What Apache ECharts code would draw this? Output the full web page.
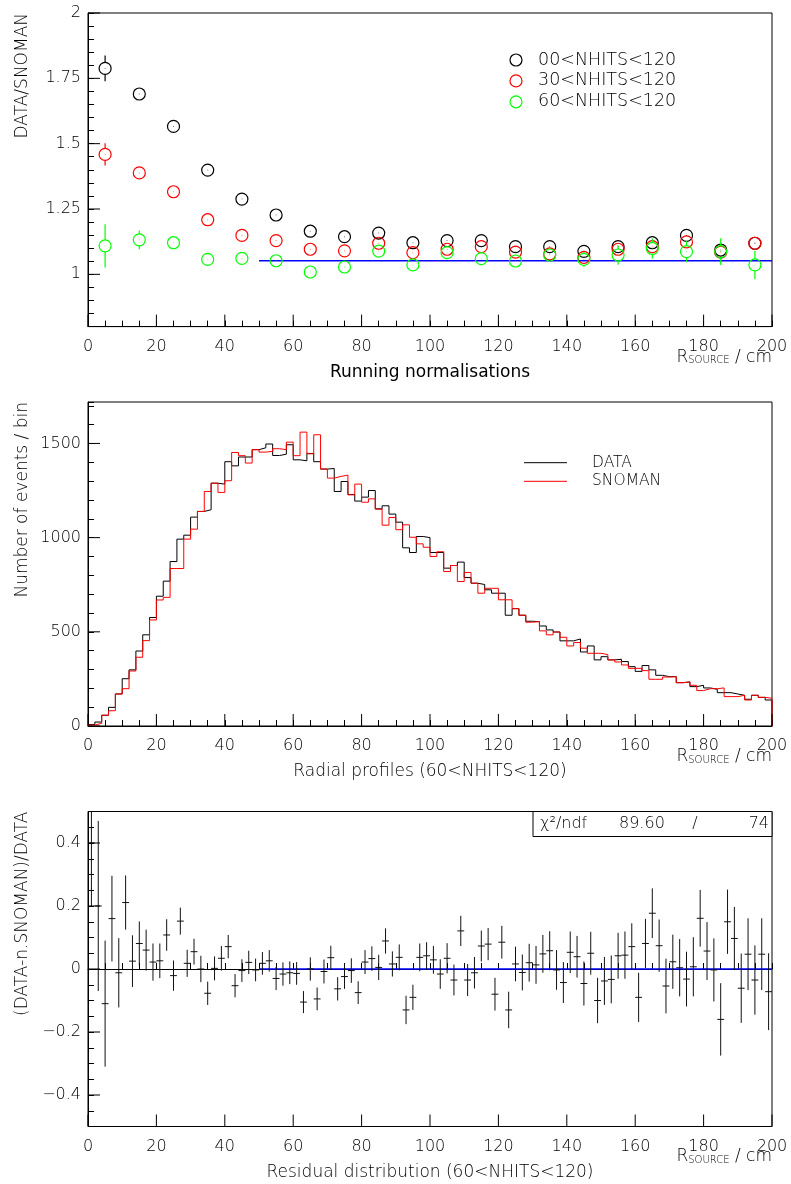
<!DOCTYPE html>
<html>
<head>
<meta charset="utf-8">
<title>Radial normalisation study</title>
<script src="https://cdn.jsdelivr.net/npm/echarts@6/dist/echarts.min.js"></script>
<style>
  html, body { margin: 0; padding: 0; background: #ffffff; }
  #chart { width: 791px; height: 1184px; }
</style>
</head>
<body>
<div id="chart"></div>
<script>
// ---------- data ----------
// running normalisation (DATA/SNOMAN) per 10 cm shell
const radiusCentres = [5, 15, 25, 35, 45, 55, 65, 75, 85, 95, 105, 115, 125, 135, 145, 155, 165, 175, 185, 195];
const ratioNhits00 = [1.788, 1.690, 1.566, 1.399, 1.288, 1.227, 1.165, 1.144, 1.158, 1.121,
                      1.129, 1.129, 1.106, 1.106, 1.088, 1.106, 1.121, 1.149, 1.093, 1.119];
const ratioNhits00Err = [0.049, 0.012, 0.010, 0.008, 0.008, 0.008, 0.008, 0.008, 0.008, 0.008,
                         0.008, 0.008, 0.008, 0.008, 0.008, 0.009, 0.010, 0.010, 0.012, 0.015];
const ratioNhits30 = [1.459, 1.388, 1.316, 1.209, 1.149, 1.129, 1.096, 1.090, 1.119, 1.083,
                      1.096, 1.106, 1.085, 1.078, 1.065, 1.096, 1.106, 1.124, 1.085, 1.119];
const ratioNhits30Err = [0.043, 0.012, 0.010, 0.009, 0.009, 0.009, 0.009, 0.009, 0.009, 0.009,
                         0.010, 0.010, 0.010, 0.011, 0.011, 0.012, 0.013, 0.014, 0.016, 0.018];
const ratioNhits60 = [1.109, 1.132, 1.121, 1.057, 1.061, 1.052, 1.009, 1.028, 1.089, 1.036,
                      1.083, 1.060, 1.051, 1.074, 1.057, 1.074, 1.099, 1.087, 1.087, 1.036];
const ratioNhits60Err = [0.083, 0.036, 0.020, 0.015, 0.015, 0.015, 0.016, 0.017, 0.018, 0.019,
                         0.020, 0.025, 0.024, 0.025, 0.028, 0.037, 0.038, 0.041, 0.051, 0.054];
const normLevel = 1.052;
const normRange = [50, 200];

// radial profiles, 2 cm bins from 0 to 200 cm
const binWidth = 2;
const dataCounts = [
  8, 21, 57, 99, 170, 251, 298, 398, 484, 576,
  689, 769, 873, 992, 1013, 1109, 1139, 1148, 1289, 1284,
  1403, 1381, 1428, 1428, 1467, 1477, 1497, 1436, 1443, 1493,
  1413, 1408, 1447, 1403, 1364, 1367, 1245, 1298, 1229, 1194,
  1215, 1250, 1153, 1169, 1125, 1082, 946, 921, 1006, 1000,
  921, 921, 838, 852, 870, 788, 758, 751, 723, 705,
  705, 588, 623, 588, 556, 554, 531, 510, 499, 452,
  452, 462, 393, 425, 351, 368, 351, 354, 342, 315,
  290, 321, 298, 269, 262, 262, 230, 234, 209, 216,
  202, 195, 177, 177, 170, 163, 142, 163, 152, 138
];
const snomanCounts = [
  5, 14, 57, 81, 170, 198, 292, 365, 453, 563,
  669, 683, 836, 836, 992, 1045, 1139, 1245, 1289, 1240,
  1302, 1452, 1435, 1396, 1467, 1454, 1458, 1472, 1467, 1507,
  1435, 1560, 1445, 1546, 1364, 1316, 1325, 1332, 1227, 1284,
  1188, 1206, 1151, 1066, 1107, 1042, 1068, 1002, 967, 949,
  900, 925, 820, 852, 767, 815, 758, 705, 731, 731,
  670, 670, 623, 588, 551, 554, 505, 484, 499, 471,
  425, 443, 413, 386, 386, 379, 351, 340, 324, 306,
  306, 294, 248, 248, 260, 262, 230, 234, 216, 188,
  198, 198, 202, 156, 156, 163, 138, 163, 152, 147
];

// residuals (DATA - n.SNOMAN)/DATA per bin, with errors
const residuals = [
  0.400, 0.200, -0.110, 0.160, -0.012, 0.211, 0.025, 0.081, 0.060, 0.022,
  0.026, 0.108, -0.021, 0.152, 0.018, 0.055, 0.000, -0.077, 0.002, 0.034,
  0.071, -0.053, -0.005, 0.021, -0.003, 0.018, 0.026, -0.030, -0.016, -0.012,
  -0.014, -0.105, 0.000, -0.095, -0.008, 0.036, -0.063, -0.024, -0.005, -0.075,
  0.022, 0.033, 0.005, 0.089, 0.016, 0.037, -0.130, -0.090, 0.037, 0.042,
  0.029, -0.016, 0.034, -0.035, 0.121, -0.035, -0.012, 0.073, 0.079, -0.080,
  0.085, -0.130, 0.016, -0.011, 0.020, 0.013, 0.048, 0.058, -0.003, -0.043,
  0.053, 0.039, -0.046, 0.050, -0.100, -0.038, -0.033, 0.042, 0.044, 0.071,
  -0.090, 0.081, 0.177, 0.074, -0.054, 0.023, 0.004, -0.032, 0.007, 0.161,
  0.057, -0.003, -0.160, 0.150, 0.097, -0.061, 0.047, -0.035, 0.047, -0.072
];
const residualErrs = [
  0.200, 0.270, 0.200, 0.136, 0.110, 0.086, 0.082, 0.070, 0.065, 0.059,
  0.055, 0.050, 0.048, 0.043, 0.043, 0.041, 0.042, 0.037, 0.038, 0.039,
  0.037, 0.037, 0.036, 0.037, 0.036, 0.036, 0.034, 0.037, 0.037, 0.036,
  0.036, 0.035, 0.037, 0.036, 0.038, 0.038, 0.037, 0.039, 0.039, 0.036,
  0.038, 0.039, 0.040, 0.040, 0.040, 0.041, 0.045, 0.040, 0.044, 0.043,
  0.044, 0.047, 0.048, 0.049, 0.048, 0.051, 0.050, 0.049, 0.051, 0.052,
  0.052, 0.058, 0.055, 0.057, 0.060, 0.060, 0.060, 0.062, 0.063, 0.065,
  0.066, 0.066, 0.070, 0.068, 0.072, 0.076, 0.076, 0.073, 0.075, 0.074,
  0.078, 0.078, 0.079, 0.083, 0.087, 0.086, 0.091, 0.087, 0.094, 0.090,
  0.092, 0.100, 0.115, 0.102, 0.100, 0.110, 0.114, 0.110, 0.114, 0.122
];
const chi2Value = '89.60';
const ndfValue = '74';

// axis ticks
const radiusTicks = [0, 20, 40, 60, 80, 100, 120, 140, 160, 180, 200];
const ratioTicks = [1, 1.25, 1.5, 1.75, 2];
const countTicks = [0, 500, 1000, 1500];
const residualTicks = [-0.4, -0.2, 0, 0.2, 0.4];

// ---------- styling ----------
const FONT = "'DejaVu Sans', 'Liberation Sans', sans-serif";
const INK = '#000000';
const GREEN = '#00ff00';
const GRID_LEFT = 88, GRID_WIDTH = 684;
const grids = [
  { left: GRID_LEFT, top: 13, width: GRID_WIDTH, height: 313.6 },
  { left: GRID_LEFT, top: 402, width: GRID_WIDTH, height: 324 },
  { left: GRID_LEFT, top: 811.5, width: GRID_WIDTH, height: 315 }
];
const yRanges = [[0.8, 2], [0, 1720], [-0.5, 0.5]];
const yMinorStep = [0.05, 100, 0.05];
const yMajors = [ratioTicks, countTicks, residualTicks];

const isMajor = (list, v) => list.some(t => Math.abs(t - v) < 1e-7);
const fmtNum = v => {
  const s = String(+v.toFixed(2));
  return s.charAt(0) === '-' ? '\u2212' + s.slice(1) : s;
};

function xAxisFor(i) {
  return {
    type: 'value', gridIndex: i, min: 0, max: 200, interval: 5,
    axisLine: { show: true, lineStyle: { color: INK, width: 1 } },
    axisTick: { show: true, inside: true, length: 6, lineStyle: { color: INK, width: 1 } },
    axisLabel: {
      show: true, margin: 12, fontFamily: FONT, fontSize: 16, fontWeight: 200, color: INK,
      formatter: v => isMajor(radiusTicks, v) ? String(Math.round(v)) : ''
    },
    splitLine: { show: false }
  };
}
function yAxisFor(i) {
  return {
    type: 'value', gridIndex: i, min: yRanges[i][0], max: yRanges[i][1], interval: yMinorStep[i],
    axisLine: { show: true, lineStyle: { color: INK, width: 1 } },
    axisTick: { show: true, inside: true, length: 6, lineStyle: { color: INK, width: 1 } },
    axisLabel: {
      show: true, margin: 7, fontFamily: FONT, fontSize: 16, fontWeight: 200, color: INK,
      showMaxLabel: true,
      formatter: v => isMajor(yMajors[i], v) ? fmtNum(v) : ''
    },
    splitLine: { show: false }
  };
}

// long tick marks at labelled values
function majorTicks(gridIndex, dir, values, len) {
  const yMin = yRanges[gridIndex][0];
  return {
    type: 'custom', xAxisIndex: gridIndex, yAxisIndex: gridIndex, silent: true, clip: false, z: 5,
    data: values.map(v => dir === 'y' ? [0, v] : [v, yMin]),
    renderItem(params, api) {
      const p = api.coord([api.value(0), api.value(1)]);
      const shape = dir === 'y'
        ? { x1: p[0], y1: p[1], x2: p[0] + len, y2: p[1] }
        : { x1: p[0], y1: p[1], x2: p[0], y2: p[1] - len };
      return { type: 'line', shape, style: { stroke: INK, lineWidth: 1 } };
    }
  };
}

// open-circle markers with vertical error bars drawn outside the marker
function ratioSeries(name, values, errs, color) {
  return {
    type: 'custom', name, xAxisIndex: 0, yAxisIndex: 0, clip: true, z: 4,
    data: radiusCentres.map((r, i) => [r, values[i], errs[i]]),
    renderItem(params, api) {
      const x = api.value(0), y = api.value(1), e = api.value(2);
      const c = api.coord([x, y]);
      const hi = api.coord([x, y + e]);
      const lo = api.coord([x, y - e]);
      const R = 6;
      const st = { stroke: color, lineWidth: 1.2, fill: 'none' };
      const children = [{ type: 'circle', shape: { cx: c[0], cy: c[1], r: R }, style: st }];
      if (c[1] - hi[1] > R) children.push({ type: 'line', shape: { x1: c[0], y1: hi[1], x2: c[0], y2: c[1] - R }, style: st });
      if (lo[1] - c[1] > R) children.push({ type: 'line', shape: { x1: c[0], y1: c[1] + R, x2: c[0], y2: lo[1] }, style: st });
      children.push({ type: 'rect', shape: { x: c[0] - 0.5, y: c[1] - 0.5, width: 1, height: 1 }, style: { fill: color, opacity: 0.5 } });
      return { type: 'group', children };
    }
  };
}

// step outline of a histogram
function histSeries(name, counts, color) {
  const pts = counts.map((c, i) => [i * binWidth, c]);
  pts.push([counts.length * binWidth, counts[counts.length - 1]]);
  pts.push([counts.length * binWidth, 0]);
  return {
    type: 'line', name, xAxisIndex: 1, yAxisIndex: 1, step: 'end', data: pts,
    symbol: 'none', lineStyle: { color, width: 1 }, itemStyle: { color }, z: 3
  };
}

const residualSeries = {
  type: 'custom', xAxisIndex: 2, yAxisIndex: 2, clip: true, z: 4,
  data: residuals.map((r, i) => [(i + 0.5) * binWidth, r, residualErrs[i]]),
  renderItem(params, api) {
    const x = api.value(0), y = api.value(1), e = api.value(2);
    const l = api.coord([x - binWidth / 2, y]);
    const r = api.coord([x + binWidth / 2, y]);
    const hi = api.coord([x, y + e]);
    const lo = api.coord([x, y - e]);
    const st = { stroke: '#111111', lineWidth: 1 };
    return {
      type: 'group',
      children: [
        { type: 'line', shape: { x1: l[0], y1: l[1], x2: r[0], y2: r[1] }, style: st },
        { type: 'line', shape: { x1: hi[0], y1: hi[1], x2: lo[0], y2: lo[1] }, style: st }
      ]
    };
  }
};

function flatLine(gridIndex, level) {
  return {
    type: 'line', xAxisIndex: gridIndex, yAxisIndex: gridIndex,
    data: [[normRange[0], level], [normRange[1], level]],
    symbol: 'none', lineStyle: { color: '#0000ff', width: 1.3 }, z: 3
  };
}

// ---------- text and decorations ----------
const gridBottom = g => g.top + g.height;
function axisTitleX(g, text, weight) {
  return {
    type: 'text', x: g.left + g.width / 2, y: gridBottom(g) + 46,
    style: { text, fontFamily: FONT, fontSize: 17, fontWeight: weight, fill: INK, textAlign: 'center', textVerticalAlign: 'middle' }
  };
}
function radiusUnit(g) {
  return {
    type: 'text', x: g.left + g.width, y: gridBottom(g) + 39,
    style: {
      text: '{r|R}{s|SOURCE}{r| / cm}', textAlign: 'right', textVerticalAlign: 'bottom', fill: INK,
      rich: {
        r: { fontFamily: FONT, fontSize: 17, fontWeight: 200, verticalAlign: 'bottom', lineHeight: 20 },
        s: { fontFamily: FONT, fontSize: 10, fontWeight: 200, verticalAlign: 'bottom', lineHeight: 14 }
      }
    }
  };
}
function axisTitleY(g, text) {
  return {
    type: 'text', x: 23, y: g.top, rotation: Math.PI / 2,
    style: { text, fontFamily: FONT, fontSize: 17, fontWeight: 200, fill: INK, textAlign: 'right', textVerticalAlign: 'middle' }
  };
}

const legendRatio = [
  { label: '00<NHITS<120', color: '#000000' },
  { label: '30<NHITS<120', color: '#ff0000' },
  { label: '60<NHITS<120', color: GREEN }
];
const legendHist = [
  { label: 'DATA', color: '#000000' },
  { label: 'SNOMAN', color: '#ff0000' }
];

const graphics = [];
legendRatio.forEach((item, i) => {
  const y = 60 + i * 20.9;
  graphics.push({ type: 'circle', shape: { cx: 516, cy: y, r: 6 }, style: { fill: 'none', stroke: item.color, lineWidth: 1.2 } });
  graphics.push({ type: 'text', x: 538, y, style: { text: item.label, fontFamily: FONT, fontSize: 17.5, fontWeight: 200, fill: INK, textVerticalAlign: 'middle' } });
});
legendHist.forEach((item, i) => {
  const y = 462.7 + i * 18.6;
  graphics.push({ type: 'line', shape: { x1: 524, y1: y, x2: 567, y2: y }, style: { stroke: item.color, lineWidth: 1 } });
  graphics.push({ type: 'text', x: 592, y, style: { text: item.label, fontFamily: FONT, fontSize: 15.5, fontWeight: 200, fill: INK, textVerticalAlign: 'middle' } });
});

// fit-quality box in the residual panel
const boxY = grids[2].top;
graphics.push({ type: 'rect', shape: { x: 533, y: boxY, width: 239, height: 25 }, style: { fill: '#ffffff', stroke: INK, lineWidth: 1 }, z: 10 });
const boxText = (text, x, align) => ({
  type: 'text', x, y: boxY + 12.5, z: 11,
  style: { text, fontFamily: FONT, fontSize: 16, fontWeight: 200, fill: INK, textAlign: align, textVerticalAlign: 'middle' }
});
graphics.push(boxText('\u03c7\u00b2/ndf', 540, 'left'));
graphics.push(boxText(chi2Value, 619, 'left'));
graphics.push(boxText('/', 695, 'center'));
graphics.push(boxText(ndfValue, 769, 'right'));

graphics.push(axisTitleX(grids[0], 'Running normalisations', 'normal'));
graphics.push(axisTitleX(grids[1], 'Radial profiles (60<NHITS<120)', 200));
graphics.push(axisTitleX(grids[2], 'Residual distribution (60<NHITS<120)', 200));
grids.forEach(g => graphics.push(radiusUnit(g)));
graphics.push(axisTitleY(grids[0], 'DATA/SNOMAN'));
graphics.push(axisTitleY(grids[1], 'Number of events / bin'));
graphics.push(axisTitleY(grids[2], '(DATA-n.SNOMAN)/DATA'));

// ---------- chart ----------
const chart = echarts.init(document.getElementById('chart'), null, { renderer: 'canvas' });
chart.setOption({
  animation: false,
  backgroundColor: '#ffffff',
  grid: grids.map(g => Object.assign({ show: true, borderColor: INK, borderWidth: 1, backgroundColor: 'transparent', containLabel: false }, g)),
  xAxis: [0, 1, 2].map(xAxisFor),
  yAxis: [0, 1, 2].map(yAxisFor),
  series: [
    flatLine(0, normLevel),
    ratioSeries('00<NHITS<120', ratioNhits00, ratioNhits00Err, '#000000'),
    ratioSeries('30<NHITS<120', ratioNhits30, ratioNhits30Err, '#ff0000'),
    ratioSeries('60<NHITS<120', ratioNhits60, ratioNhits60Err, GREEN),
    histSeries('DATA', dataCounts, '#000000'),
    histSeries('SNOMAN', snomanCounts, '#ff0000'),
    flatLine(2, 0),
    residualSeries,
    majorTicks(0, 'y', ratioTicks, 12),
    majorTicks(1, 'y', countTicks, 12),
    majorTicks(2, 'y', residualTicks, 12),
    majorTicks(0, 'x', radiusTicks, 12),
    majorTicks(1, 'x', radiusTicks, 12),
    majorTicks(2, 'x', radiusTicks, 12)
  ],
  graphic: graphics
});
</script>
</body>
</html>
